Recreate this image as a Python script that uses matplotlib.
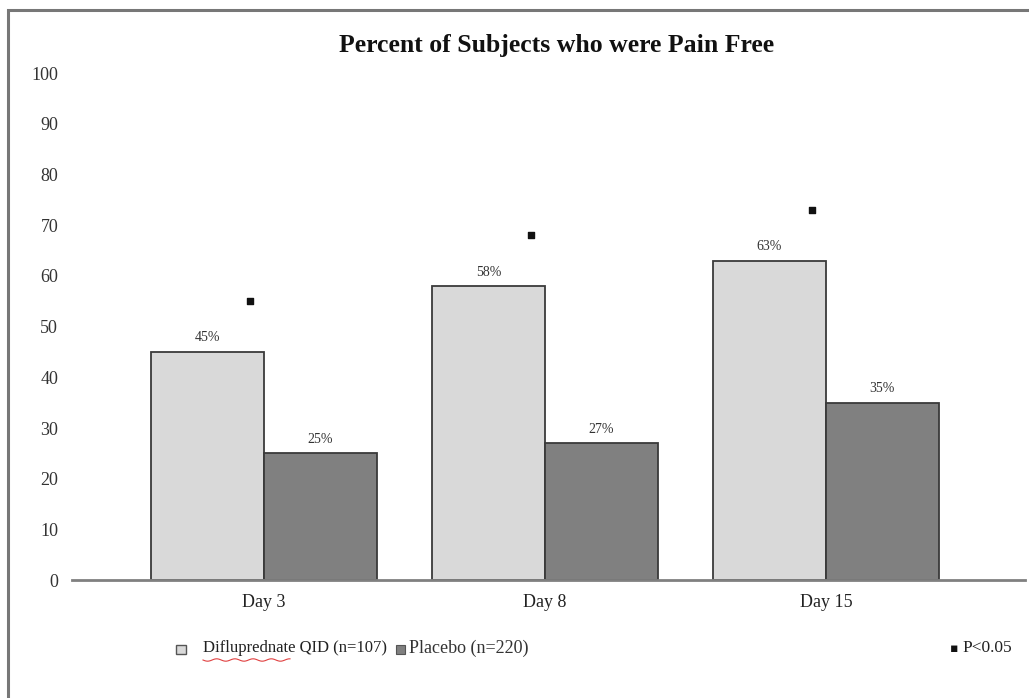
import matplotlib.pyplot as plt
import numpy as np
from matplotlib.patches import Rectangle

days = ['Day 3', 'Day 8', 'Day 15']
diflu = [45, 58, 63]
placebo = [25, 27, 35]
diflu_labels = ['45%', '58%', '63%']
placebo_labels = ['25%', '27%', '35%']
sig_marks = [55, 68, 73]

plt.rcParams['font.family'] = ['Liberation Serif', 'DejaVu Serif']

fig = plt.figure(figsize=(10.29, 6.98), dpi=100)
ax = fig.add_axes([0.07, 0.169, 0.926, 0.726])

x = np.arange(len(days))
w = 0.402
light = '#d9d9d9'
dark = '#808080'
ax.bar(x - w/2, diflu, w, color=light, edgecolor='#3a3a3a', linewidth=1.3, zorder=2)
ax.bar(x + w/2, placebo, w, color=dark, edgecolor='#3a3a3a', linewidth=1.3, zorder=2)

for i in range(len(days)):
    ax.text(x[i] - w/2, diflu[i] + 1.5, diflu_labels[i], ha='center', va='bottom',
            fontsize=10, color='#333333')
    ax.text(x[i] + w/2, placebo[i] + 1.5, placebo_labels[i], ha='center', va='bottom',
            fontsize=10, color='#333333')

# significance markers
ax.scatter(x - 0.05, sig_marks, marker='s', s=14, color='#111111', zorder=3)

ax.set_xlim(-0.683, 2.708)
ax.set_ylim(0, 100)
ax.set_yticks(range(0, 101, 10))
ax.set_xticks(x)
ax.set_xticklabels(days, fontsize=13)
ax.tick_params(axis='y', length=0, pad=10, labelsize=13, colors='#333333')
ax.tick_params(axis='x', length=0, pad=10, colors='#222222')
for s in ['top', 'right', 'left']:
    ax.spines[s].set_visible(False)
ax.spines['bottom'].set_color('#808080')
ax.spines['bottom'].set_linewidth(2)

fig.text(0.541, 0.935, 'Percent of Subjects who were Pain Free', ha='center', va='center',
         fontsize=18.5, fontweight='bold', color='#111111')

# outer frame
fig.patches.append(Rectangle((8/1029, -0.1), 1.2, 1 - 10/698 + 0.1, transform=fig.transFigure,
                             fill=False, edgecolor='#777777', linewidth=2.2))

# legend row
ly = 1 - 648/698
fig.patches.append(Rectangle((176/1029, ly - 0.009), 10/1029, 0.0135, transform=fig.transFigure,
                             facecolor=light, edgecolor='#555555', linewidth=1))
fig.text(203/1029, ly, 'Difluprednate QID (n=107)', ha='left', va='center', fontsize=12,
         color='#222222')
fig.patches.append(Rectangle((396/1029, ly - 0.008), 9/1029, 0.0125, transform=fig.transFigure,
                             facecolor=dark, edgecolor='#555555', linewidth=0.8))
fig.text(409/1029, ly, 'Placebo (n=220)', ha='left', va='center', fontsize=13,
         color='#333333')
fig.text(950/1029, ly, '\u25aa', ha='left', va='center', fontsize=9, color='#111111',
         family=['DejaVu Sans'])
fig.text(962/1029, ly, 'P<0.05', ha='left', va='center', fontsize=12.5, color='#222222')

# spell-check squiggle under the first word
sx = np.linspace(203, 290, 60) / 1029
sy = 1 - (660 + 1.2 * np.sin(np.linspace(0, 30, 60))) / 698
fig.add_artist(plt.Line2D(sx, sy, color='#e04040', linewidth=0.8, transform=fig.transFigure))

fig.savefig('out.png', dpi=100)
